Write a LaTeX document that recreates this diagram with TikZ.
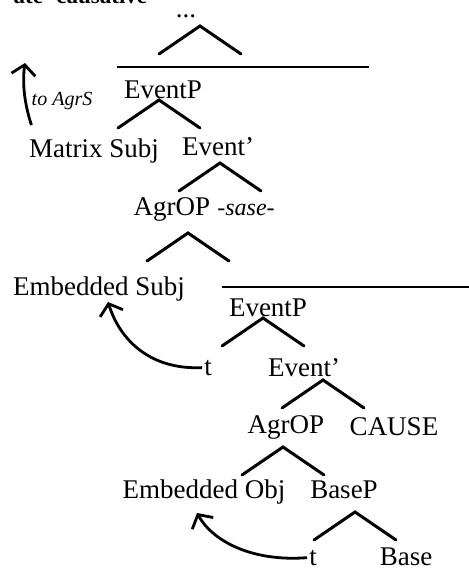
\documentclass[tikz,border=0pt]{standalone}
\usepackage{fontspec}
\setmainfont{Liberation Serif}
\usetikzlibrary{arrows.meta}

\begin{document}
\begin{tikzpicture}[x=1pt, y=-1pt,
    every node/.style={font=\fontsize{27}{31}\selectfont, inner sep=0pt, anchor=base},
    small/.style={font=\fontsize{20}{23}\selectfont\itshape},
    branch/.style={line width=3pt, line cap=round},
    bar/.style={line width=2.6pt},
    move/.style={line width=2.8pt, shorten <=2pt,
        -{Straight Barb[length=10pt, width=24pt, line width=2.8pt]}}]
    \useasboundingbox (0,0) rectangle (469,571);
    \clip (0,0) rectangle (469,571);

    % labels
    \node[anchor=base east, font=\fontsize{23}{26}\selectfont\bfseries] (caption) at (155,3) {ate `causative'};
    \node[text height=4pt] (dots) at (186,17) {...};
    \node (eventp) at (163,98) {EventP};
    \node[small] (toagrs) at (62,105) {to AgrS};
    \node (msubj) at (94,157) {Matrix Subj};
    \node (ebar) at (218,155) {Event'};
    \node (agrop) at (172,215) {AgrOP};
    \node[font=\fontsize{24}{28}\selectfont\itshape] (sase) at (246,215) {-sase-};
    \node (esubj) at (99,295) {Embedded Subj};
    \node (eventpb) at (268,316) {EventP};
    \node (t1) at (208,375) {t};
    \node (ebarb) at (304,376) {Event'};
    \node (agropb) at (286,433) {AgrOP};
    \node (cause) at (394,435) {CAUSE};
    \node (eobj) at (204,498) {Embedded Obj};
    \node (basep) at (344,498) {BaseP};
    \node (t2) at (313,565) {t};
    \node (base) at (406,565) {Base};

    % branches
    \foreach \n/\x/\y in {top/200/26, ep/159/100, eb/220/163, agr/188/233,
                          epb/263/318, ebb/323/380, agrb/283/447, bp/355/512} {
        \coordinate (\n) at (\x,\y);
        \coordinate (\n-l) at (\x-41,\y+28);
        \coordinate (\n-r) at (\x+41,\y+28);
        \draw[branch] (\n-l) -- (\n) -- (\n-r);
    }

    % bars
    \coordinate (bar1-l) at (117,67);
    \coordinate (bar1-r) at (369,67);
    \coordinate (bar2-l) at (222,287);
    \coordinate (bar2-r) at (469,287);
    \draw[bar] (bar1-l) -- (bar1-r);
    \draw[bar] (bar2-l) -- (bar2-r);

    % movement
    \coordinate (ms-foot) at (32,127);
    \coordinate (agrs) at (25,63);
    \coordinate (es-tip) at (108,302);
    \coordinate (eo-tip) at (197,513);
    \draw[move] (ms-foot) .. controls (25,105) and (22,85) .. (agrs);
    \draw[move] (t1.west) .. controls (150,370) and (120,340) .. (es-tip);
    \draw[move] (t2.west) .. controls (250,562) and (212,540) .. (eo-tip);
\end{tikzpicture}
\end{document}
